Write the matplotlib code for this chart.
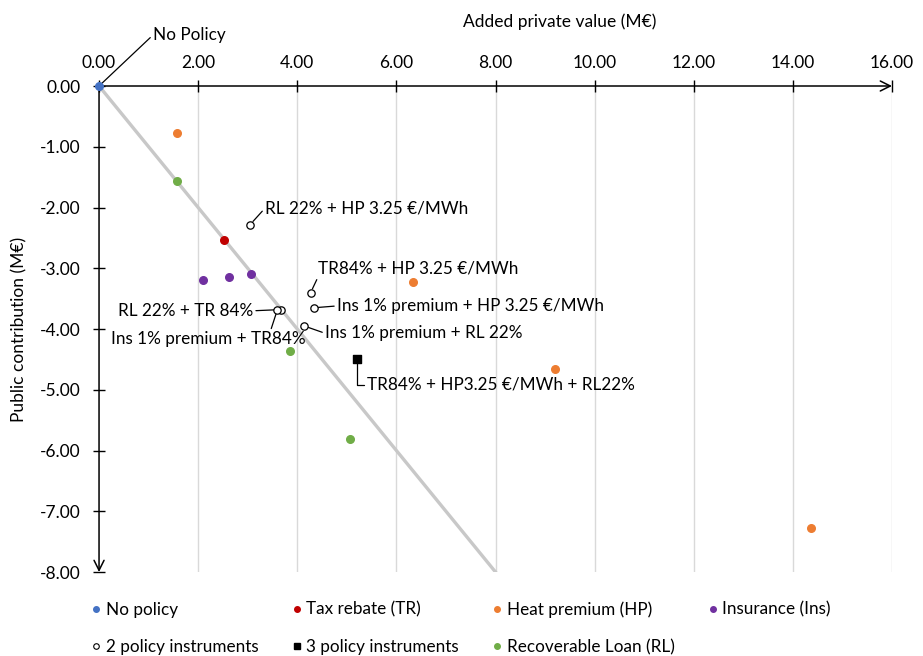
import matplotlib.pyplot as plt
from matplotlib.lines import Line2D

plt.rcParams['font.family'] = ['Lato', 'DejaVu Sans']

# single-instrument results (added private value, public contribution), M€
no_policy_x = [0.0]
no_policy_y = [0.0]
tr_x = [2.53]
tr_y = [-2.53]
hp_x = [1.58, 6.34, 9.21, 14.37]
hp_y = [-0.77, -3.22, -4.65, -7.27]
ins_x = [2.09, 2.62, 3.07]
ins_y = [-3.19, -3.14, -3.10]
rl_x = [1.57, 3.85, 5.06]
rl_y = [-1.56, -4.36, -5.81]

# combinations
two_labels = ['RL 22% + HP 3.25 €/MWh', 'TR84% + HP 3.25 €/MWh',
              'Ins 1% premium + HP 3.25 €/MWh', 'Ins 1% premium + RL 22%',
              'RL 22% + TR 84%', 'Ins 1% premium + TR84%']
two_x = [3.05, 4.27, 4.34, 4.14, 3.67, 3.60]
two_y = [-2.28, -3.40, -3.65, -3.95, -3.68, -3.68]
three_labels = ['TR84% + HP3.25 €/MWh + RL22%']
three_x = [5.21]
three_y = [-4.49]

# label text anchors (data units) and alignment
two_text = [(3.35, -2.01), (4.42, -3.01), (4.80, -3.62), (4.56, -4.07),
            (3.11, -3.70), (2.20, -4.17)]
two_ha = ['left', 'left', 'left', 'left', 'right', 'center']
two_rel = [(0, 0.5), (0, 0), (0, 0.5), (0, 0.5), (1, 0.5), (0.82, 1)]

xticks = [0, 2, 4, 6, 8, 10, 12, 14, 16]
yticks = [0, -1, -2, -3, -4, -5, -6, -7, -8]

c_blue = '#4472C4'
c_red = '#C00000'
c_orange = '#ED7D31'
c_purple = '#7030A0'
c_green = '#70AD47'

fig = plt.figure(figsize=(9.23, 6.56), dpi=100)
ax = fig.add_axes([0.1073, 0.128, 0.8591, 0.7409])

ax.set_xlim(0, 16)
ax.set_ylim(-8, 0)

for x in xticks[1:]:
    ax.axvline(x, color='#D9D9D9', lw=1, zorder=0)

# 1:1 line
ax.plot([0, 8], [0, -8], color='#C8C8C8', lw=2.4, zorder=1)

ms = 30
ax.scatter(no_policy_x, no_policy_y, s=ms, color=c_blue, zorder=5, clip_on=False)
ax.scatter(tr_x, tr_y, s=ms, color=c_red, zorder=4)
ax.scatter(hp_x, hp_y, s=ms, color=c_orange, zorder=4)
ax.scatter(ins_x, ins_y, s=ms, color=c_purple, zorder=4)
ax.scatter(rl_x, rl_y, s=ms, color=c_green, zorder=4)
ax.scatter(two_x, two_y, s=28, facecolor='white', edgecolor='black', lw=0.9, zorder=4)
ax.scatter(three_x, three_y, s=36, marker='s', color='black', zorder=4)

fs = 12.3
for lab, x, y, (tx, ty), ha, rel in zip(two_labels, two_x, two_y, two_text, two_ha, two_rel):
    ax.annotate(lab, xy=(x, y), xytext=(tx, ty), ha=ha, va='center', fontsize=fs,
                arrowprops=dict(arrowstyle='-', color='black', lw=0.9, relpos=rel,
                                shrinkA=0, shrinkB=3))
ax.annotate(three_labels[0], xy=(three_x[0], three_y[0]), xytext=(5.40, -4.92),
            ha='left', va='center', fontsize=fs,
            arrowprops=dict(arrowstyle='-', color='black', lw=0.9, relpos=(0, 0.5),
                            shrinkA=0, shrinkB=3,
                            connectionstyle='angle,angleA=0,angleB=90,rad=0'))
ax.annotate('No Policy', xy=(0, 0), xytext=(1.09, 0.84), ha='left', va='center',
            fontsize=fs, annotation_clip=False,
            arrowprops=dict(arrowstyle='-', color='black', lw=0.9, relpos=(0, 0.5),
                            shrinkA=0, shrinkB=0))

# axes through the origin with arrow heads
for s in ['top', 'bottom', 'left', 'right']:
    ax.spines[s].set_visible(False)
ax.annotate('', xy=(16, 0), xytext=(0, 0), annotation_clip=False,
            arrowprops=dict(arrowstyle='->', color='black', lw=1.1,
                            shrinkA=0, shrinkB=0, mutation_scale=18))
ax.annotate('', xy=(0, -8), xytext=(0, 0), annotation_clip=False,
            arrowprops=dict(arrowstyle='->', color='black', lw=1.1,
                            shrinkA=0, shrinkB=0, mutation_scale=18))

ax.set_xticks(xticks)
ax.set_xticklabels(['%.2f' % v for v in xticks])
ax.set_yticks(yticks)
ax.set_yticklabels(['%.2f' % v for v in yticks])
ax.xaxis.tick_top()
ax.tick_params(axis='x', direction='inout', length=8, width=1, labelsize=12.5, pad=7)
ax.tick_params(axis='y', direction='inout', length=8, width=1, labelsize=12.5, pad=9)
ax.tick_params(top=True, bottom=False, left=True, right=False)

ax.xaxis.set_label_position('top')
ax.set_xlabel('Added private value (M€)', fontsize=12.5)
ax.xaxis.set_label_coords(0.581, 1.122)
ax.set_ylabel('Public contribution (M€)', fontsize=12.5)
ax.yaxis.set_label_coords(-0.09, 0.5)

handles = [
    Line2D([], [], ls='', marker='o', ms=4, color=c_blue),
    Line2D([], [], ls='', marker='o', ms=4, mfc='white', mec='black', mew=0.8),
    Line2D([], [], ls='', marker='o', ms=4, color=c_red),
    Line2D([], [], ls='', marker='s', ms=4, color='black'),
    Line2D([], [], ls='', marker='o', ms=4, color=c_orange),
    Line2D([], [], ls='', marker='o', ms=4, color=c_green),
    Line2D([], [], ls='', marker='o', ms=4, color=c_purple),
]
labels = ['No policy', '2 policy instruments', 'Tax rebate (TR)', '3 policy instruments',
          'Heat premium (HP)', 'Recoverable Loan (RL)', 'Insurance (Ins)']
fig.legend(handles, labels, ncol=4, loc='lower left', bbox_to_anchor=(0.083, -0.022),
           frameon=False, fontsize=12.3, handlelength=0.5, handletextpad=0.3,
           columnspacing=2.0, labelspacing=1.25)

fig.savefig('out.png', dpi=100)
